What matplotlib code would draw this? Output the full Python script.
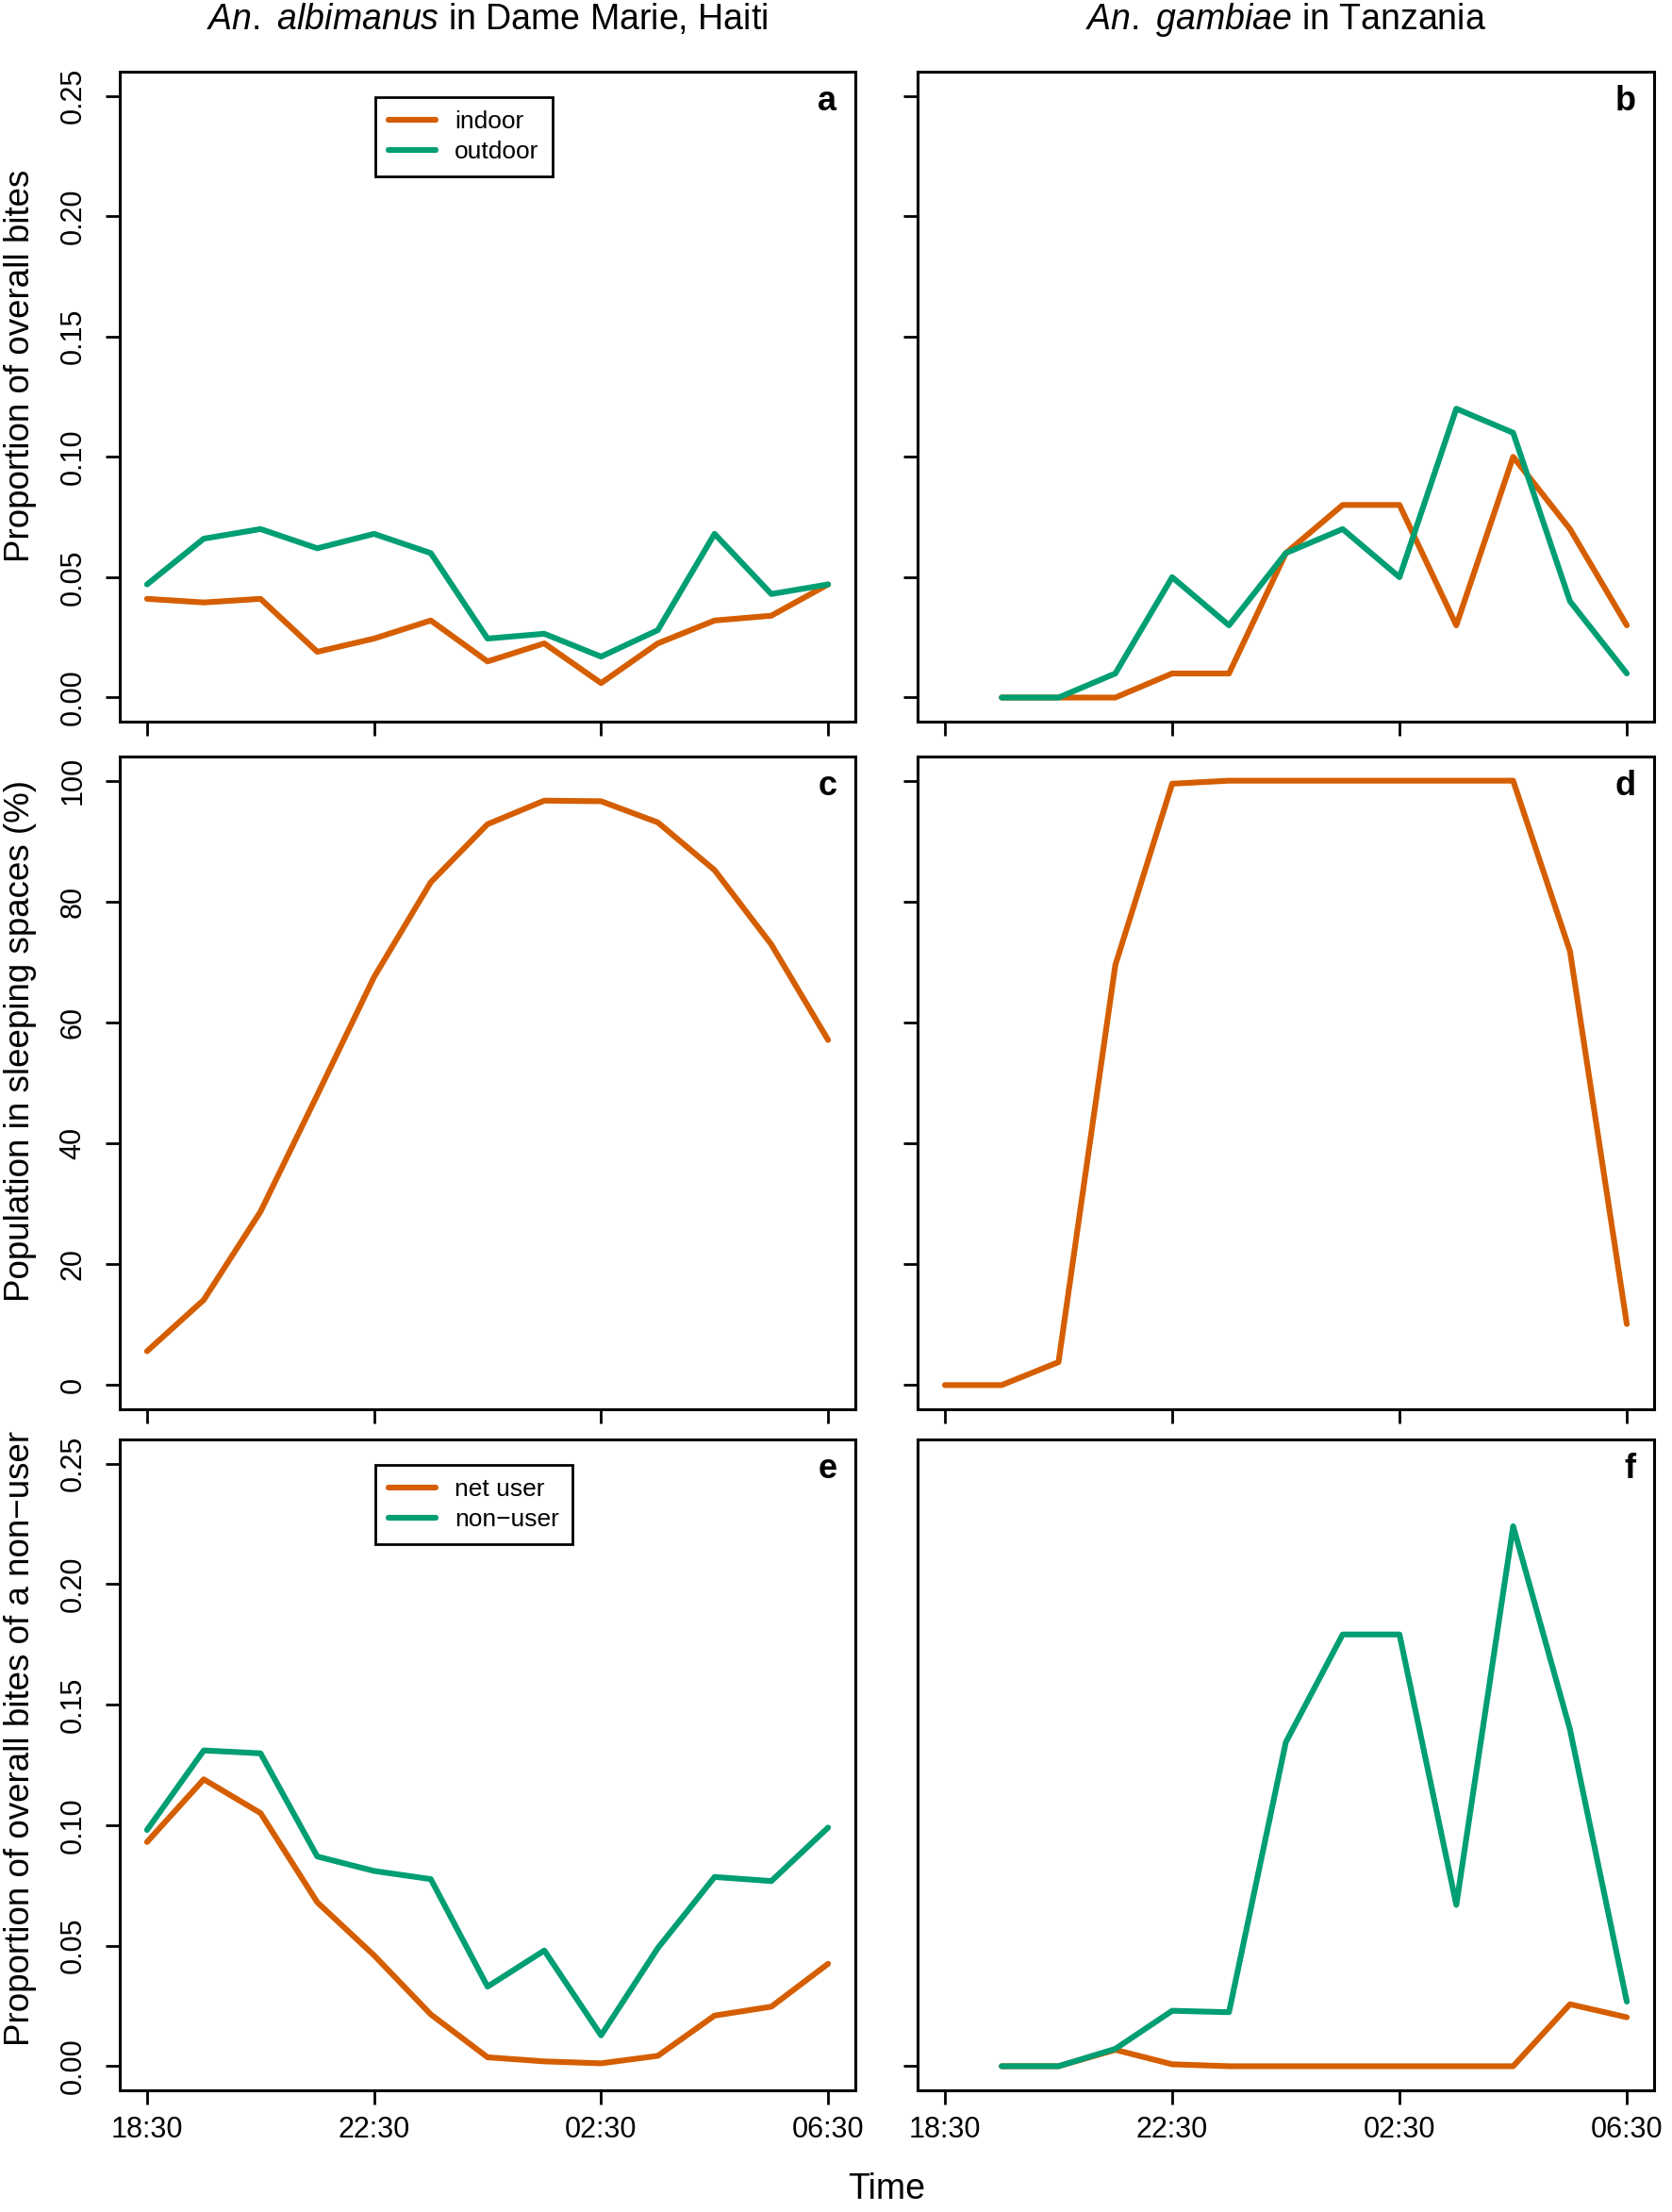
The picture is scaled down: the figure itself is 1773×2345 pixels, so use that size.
import matplotlib
matplotlib.use("Agg")
import matplotlib.pyplot as plt
import numpy as np

plt.rcParams['font.family'] = ['Liberation Sans', 'DejaVu Sans']
plt.rcParams['mathtext.fontset'] = 'custom'
plt.rcParams['mathtext.rm'] = 'Liberation Sans'
plt.rcParams['mathtext.it'] = 'Liberation Sans:italic'

# hours after 18:30
hours = np.arange(13)
tick_hours = [0, 4, 8, 12]
tick_labels = ['18:30', '22:30', '02:30', '06:30']

# a: An. albimanus, Haiti
haiti_indoor = [0.041, 0.0395, 0.041, 0.019, 0.0245, 0.032, 0.015, 0.0225, 0.006, 0.0225, 0.032, 0.034, 0.047]
haiti_outdoor = [0.047, 0.066, 0.070, 0.062, 0.068, 0.060, 0.0245, 0.0265, 0.017, 0.028, 0.068, 0.043, 0.047]
# b: An. gambiae, Tanzania (from 19:30)
tz_hours = np.arange(1, 13)
tz_indoor = [0, 0, 0, 0.01, 0.01, 0.06, 0.08, 0.08, 0.03, 0.10, 0.07, 0.03]
tz_outdoor = [0, 0, 0.01, 0.05, 0.03, 0.06, 0.07, 0.05, 0.12, 0.11, 0.04, 0.01]
# c, d: population in sleeping spaces (%)
haiti_sleep = [5.6, 14.1, 28.7, 48.0, 67.5, 83.2, 92.8, 96.7, 96.6, 93.1, 85.2, 72.9, 57.1]
tz_sleep = [0, 0, 3.8, 69.5, 99.5, 100, 100, 100, 100, 100, 100, 71.8, 10.1]
# e: Haiti, net user vs non-user
haiti_user = [0.093, 0.119, 0.105, 0.068, 0.046, 0.0215, 0.0037, 0.002, 0.0012, 0.0043, 0.021, 0.0247, 0.0425]
haiti_nonuser = [0.098, 0.131, 0.1298, 0.087, 0.081, 0.0776, 0.033, 0.048, 0.0128, 0.049, 0.0785, 0.0768, 0.099]
# f: Tanzania, net user vs non-user (from 19:30)
tz_user = [0, 0, 0.0068, 0.0008, 0, 0, 0, 0, 0, 0, 0.0257, 0.0203]
tz_nonuser = [0, 0, 0.0072, 0.023, 0.0224, 0.1344, 0.1791, 0.1791, 0.0669, 0.224, 0.1397, 0.0268]

ORANGE = '#D55E00'
GREEN = '#009E73'

W, H = 1773, 2345
fig = plt.figure(figsize=(W / 100, H / 100), dpi=100)

cols = [(127, 907), (973, 1754)]
rows = [(76, 765), (802, 1494), (1526, 2216)]

def make_ax(r, c):
    x0, x1 = cols[c]
    y0, y1 = rows[r]
    ax = fig.add_axes([x0 / W, 1 - y1 / H, (x1 - x0) / W, (y1 - y0) / H])
    for s in ax.spines.values():
        s.set_linewidth(2.2)
    ax.set_xlim(-0.48, 12.48)
    ax.set_xticks(tick_hours)
    ax.tick_params(direction='out', length=10.8, width=2, labelsize=22, pad=9)
    ax.tick_params(axis='y', labelrotation=90, pad=14)
    if r < 2:
        ax.set_xticklabels([])
    else:
        ax.set_xticklabels(tick_labels)
    return ax

def panel_letter(ax, s):
    ax.text(0.975, 0.98, s, transform=ax.transAxes, ha='right', va='top',
            fontsize=26, fontweight='bold')

def add_legend(ax):
    leg = ax.legend(loc='upper left', bbox_to_anchor=(0.347, 0.961), borderaxespad=0,
                    fontsize=19, handlelength=1.9, handletextpad=0.75, labelspacing=0.28,
                    borderpad=0.55, fancybox=False, edgecolor='black', framealpha=1)
    leg.get_frame().set_linewidth(2)

prop_ticks = [0.0, 0.05, 0.10, 0.15, 0.20, 0.25]
prop_labels = ['0.00', '0.05', '0.10', '0.15', '0.20', '0.25']
pct_ticks = [0, 20, 40, 60, 80, 100]

lw = 4.4
style = dict(lw=lw, solid_capstyle='round', solid_joinstyle='round')

# a
ax = make_ax(0, 0)
ax.plot(hours, haiti_indoor, color=ORANGE, label='indoor', **style)
ax.plot(hours, haiti_outdoor, color=GREEN, label='outdoor', **style)
ax.set_ylim(-0.01, 0.26)
ax.set_yticks(prop_ticks)
ax.set_yticklabels(prop_labels, va='center')
add_legend(ax)
panel_letter(ax, 'a')

# b
ax = make_ax(0, 1)
ax.plot(tz_hours, tz_indoor, color=ORANGE, **style)
ax.plot(tz_hours, tz_outdoor, color=GREEN, **style)
ax.set_ylim(-0.01, 0.26)
ax.set_yticks(prop_ticks)
ax.set_yticklabels([])
panel_letter(ax, 'b')

# c
ax = make_ax(1, 0)
ax.plot(hours, haiti_sleep, color=ORANGE, **style)
ax.set_ylim(-4, 104)
ax.set_yticks(pct_ticks)
ax.set_yticklabels([str(t) for t in pct_ticks], va='center')
panel_letter(ax, 'c')

# d
ax = make_ax(1, 1)
ax.plot(hours, tz_sleep, color=ORANGE, **style)
ax.set_ylim(-4, 104)
ax.set_yticks(pct_ticks)
ax.set_yticklabels([])
panel_letter(ax, 'd')

# e
ax = make_ax(2, 0)
ax.plot(hours, haiti_user, color=ORANGE, label='net user', **style)
ax.plot(hours, haiti_nonuser, color=GREEN, label='non\u2212user', **style)
ax.set_ylim(-0.01, 0.26)
ax.set_yticks(prop_ticks)
ax.set_yticklabels(prop_labels, va='center')
add_legend(ax)
panel_letter(ax, 'e')

# f
ax = make_ax(2, 1)
ax.plot(tz_hours, tz_user, color=ORANGE, **style)
ax.plot(tz_hours, tz_nonuser, color=GREEN, **style)
ax.set_ylim(-0.01, 0.26)
ax.set_yticks([0.0])
ax.set_yticklabels([])
panel_letter(ax, 'f')

# column titles, y labels, x label
fig.text(517 / W, 1 - 21 / H, r'$\it{An.\ albimanus}$ in Dame Marie, Haiti', ha='center', va='center', fontsize=27)
fig.text(1363 / W, 1 - 21 / H, r'$\it{An.\ gambiae}$ in Tanzania', ha='center', va='center', fontsize=27)
ylabels = ['Proportion of overall bites', 'Population in sleeping spaces (%)',
           'Proportion of overall bites of a non\u2212user']
ylabel_y = [388, 1103, 1843]
for yc, lab in zip(ylabel_y, ylabels):
    fig.text(22 / W, 1 - yc / H, lab, rotation=90, ha='center', va='center', fontsize=26.5)
fig.text(940 / W, 1 - 2321 / H, 'Time', ha='center', va='center', fontsize=27)

fig.savefig('out.png', dpi=100)
